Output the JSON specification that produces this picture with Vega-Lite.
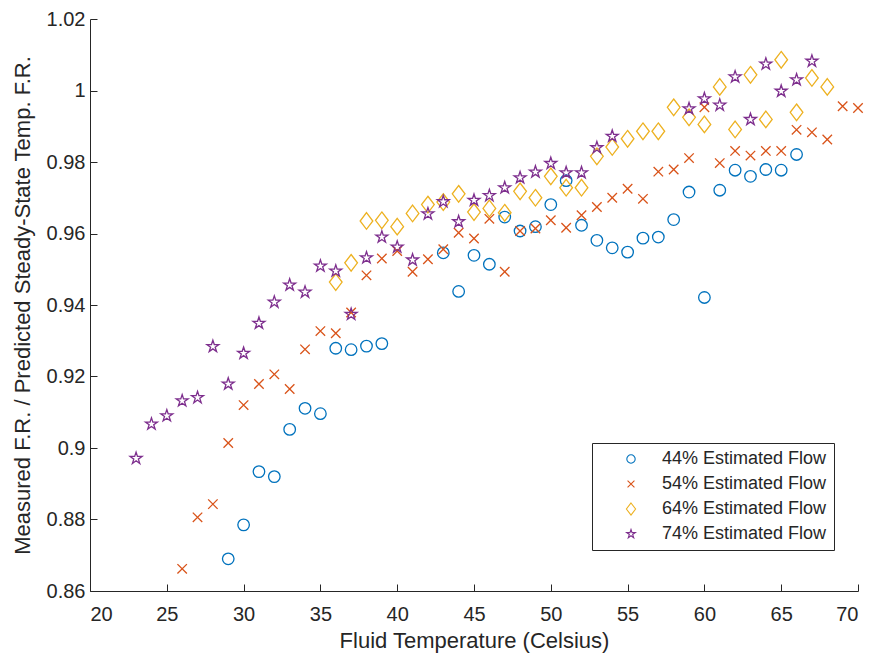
{
  "$schema": "https://vega.github.io/schema/vega-lite/v6.json",
  "width": 768,
  "height": 572,
  "autosize": {"type": "none"},
  "padding": {"left": 90, "top": 19, "right": 14, "bottom": 65},
  "background": "white",
  "config": {
    "view": {"stroke": null},
    "font": "Liberation Sans",
    "axis": {
      "grid": false,
      "domainColor": "#262626",
      "domainWidth": 1,
      "tickColor": "#262626",
      "tickWidth": 1,
      "tickSize": -7,
      "labelColor": "#262626",
      "labelFontSize": 20,
      "labelFont": "Liberation Sans",
      "titleColor": "#262626",
      "titleFontSize": 22,
      "titleFont": "Liberation Sans",
      "titleFontWeight": "normal"
    }
  },
  "data": {
    "values": [
      {"temp": 29, "ratio": 0.869, "flow": "44% Estimated Flow"},
      {"temp": 30, "ratio": 0.8785, "flow": "44% Estimated Flow"},
      {"temp": 31, "ratio": 0.8934, "flow": "44% Estimated Flow"},
      {"temp": 32, "ratio": 0.892, "flow": "44% Estimated Flow"},
      {"temp": 33, "ratio": 0.9052, "flow": "44% Estimated Flow"},
      {"temp": 34, "ratio": 0.9111, "flow": "44% Estimated Flow"},
      {"temp": 35, "ratio": 0.9096, "flow": "44% Estimated Flow"},
      {"temp": 36, "ratio": 0.9279, "flow": "44% Estimated Flow"},
      {"temp": 37, "ratio": 0.9275, "flow": "44% Estimated Flow"},
      {"temp": 38, "ratio": 0.9285, "flow": "44% Estimated Flow"},
      {"temp": 39, "ratio": 0.9292, "flow": "44% Estimated Flow"},
      {"temp": 43, "ratio": 0.9546, "flow": "44% Estimated Flow"},
      {"temp": 44, "ratio": 0.9438, "flow": "44% Estimated Flow"},
      {"temp": 45, "ratio": 0.9539, "flow": "44% Estimated Flow"},
      {"temp": 46, "ratio": 0.9514, "flow": "44% Estimated Flow"},
      {"temp": 47, "ratio": 0.9646, "flow": "44% Estimated Flow"},
      {"temp": 48, "ratio": 0.9607, "flow": "44% Estimated Flow"},
      {"temp": 49, "ratio": 0.9619, "flow": "44% Estimated Flow"},
      {"temp": 50, "ratio": 0.9681, "flow": "44% Estimated Flow"},
      {"temp": 51, "ratio": 0.9748, "flow": "44% Estimated Flow"},
      {"temp": 52, "ratio": 0.9623, "flow": "44% Estimated Flow"},
      {"temp": 53, "ratio": 0.9581, "flow": "44% Estimated Flow"},
      {"temp": 54, "ratio": 0.956, "flow": "44% Estimated Flow"},
      {"temp": 55, "ratio": 0.9548, "flow": "44% Estimated Flow"},
      {"temp": 56, "ratio": 0.9587, "flow": "44% Estimated Flow"},
      {"temp": 57, "ratio": 0.959, "flow": "44% Estimated Flow"},
      {"temp": 58, "ratio": 0.9639, "flow": "44% Estimated Flow"},
      {"temp": 59, "ratio": 0.9716, "flow": "44% Estimated Flow"},
      {"temp": 60, "ratio": 0.9421, "flow": "44% Estimated Flow"},
      {"temp": 61, "ratio": 0.9721, "flow": "44% Estimated Flow"},
      {"temp": 62, "ratio": 0.9777, "flow": "44% Estimated Flow"},
      {"temp": 63, "ratio": 0.976, "flow": "44% Estimated Flow"},
      {"temp": 64, "ratio": 0.9779, "flow": "44% Estimated Flow"},
      {"temp": 65, "ratio": 0.9777, "flow": "44% Estimated Flow"},
      {"temp": 66, "ratio": 0.9821, "flow": "44% Estimated Flow"},

      {"temp": 26, "ratio": 0.8662, "flow": "54% Estimated Flow"},
      {"temp": 27, "ratio": 0.8806, "flow": "54% Estimated Flow"},
      {"temp": 28, "ratio": 0.8843, "flow": "54% Estimated Flow"},
      {"temp": 29, "ratio": 0.9014, "flow": "54% Estimated Flow"},
      {"temp": 30, "ratio": 0.912, "flow": "54% Estimated Flow"},
      {"temp": 31, "ratio": 0.9179, "flow": "54% Estimated Flow"},
      {"temp": 32, "ratio": 0.9206, "flow": "54% Estimated Flow"},
      {"temp": 33, "ratio": 0.9165, "flow": "54% Estimated Flow"},
      {"temp": 34, "ratio": 0.9276, "flow": "54% Estimated Flow"},
      {"temp": 35, "ratio": 0.9327, "flow": "54% Estimated Flow"},
      {"temp": 36, "ratio": 0.9321, "flow": "54% Estimated Flow"},
      {"temp": 37, "ratio": 0.9379, "flow": "54% Estimated Flow"},
      {"temp": 38, "ratio": 0.9483, "flow": "54% Estimated Flow"},
      {"temp": 39, "ratio": 0.953, "flow": "54% Estimated Flow"},
      {"temp": 40, "ratio": 0.9551, "flow": "54% Estimated Flow"},
      {"temp": 41, "ratio": 0.9493, "flow": "54% Estimated Flow"},
      {"temp": 42, "ratio": 0.9528, "flow": "54% Estimated Flow"},
      {"temp": 43, "ratio": 0.9556, "flow": "54% Estimated Flow"},
      {"temp": 44, "ratio": 0.9602, "flow": "54% Estimated Flow"},
      {"temp": 45, "ratio": 0.9586, "flow": "54% Estimated Flow"},
      {"temp": 46, "ratio": 0.9641, "flow": "54% Estimated Flow"},
      {"temp": 47, "ratio": 0.9493, "flow": "54% Estimated Flow"},
      {"temp": 48, "ratio": 0.9607, "flow": "54% Estimated Flow"},
      {"temp": 49, "ratio": 0.9614, "flow": "54% Estimated Flow"},
      {"temp": 50, "ratio": 0.9637, "flow": "54% Estimated Flow"},
      {"temp": 51, "ratio": 0.9616, "flow": "54% Estimated Flow"},
      {"temp": 52, "ratio": 0.9651, "flow": "54% Estimated Flow"},
      {"temp": 53, "ratio": 0.9674, "flow": "54% Estimated Flow"},
      {"temp": 54, "ratio": 0.97, "flow": "54% Estimated Flow"},
      {"temp": 55, "ratio": 0.9725, "flow": "54% Estimated Flow"},
      {"temp": 56, "ratio": 0.9697, "flow": "54% Estimated Flow"},
      {"temp": 57, "ratio": 0.9773, "flow": "54% Estimated Flow"},
      {"temp": 58, "ratio": 0.9779, "flow": "54% Estimated Flow"},
      {"temp": 59, "ratio": 0.9811, "flow": "54% Estimated Flow"},
      {"temp": 60, "ratio": 0.9953, "flow": "54% Estimated Flow"},
      {"temp": 61, "ratio": 0.9797, "flow": "54% Estimated Flow"},
      {"temp": 62, "ratio": 0.9831, "flow": "54% Estimated Flow"},
      {"temp": 63, "ratio": 0.9818, "flow": "54% Estimated Flow"},
      {"temp": 64, "ratio": 0.9831, "flow": "54% Estimated Flow"},
      {"temp": 65, "ratio": 0.9831, "flow": "54% Estimated Flow"},
      {"temp": 66, "ratio": 0.989, "flow": "54% Estimated Flow"},
      {"temp": 67, "ratio": 0.9883, "flow": "54% Estimated Flow"},
      {"temp": 68, "ratio": 0.9863, "flow": "54% Estimated Flow"},
      {"temp": 69, "ratio": 0.9956, "flow": "54% Estimated Flow"},
      {"temp": 70, "ratio": 0.9951, "flow": "54% Estimated Flow"},

      {"temp": 36, "ratio": 0.9464, "flow": "64% Estimated Flow"},
      {"temp": 37, "ratio": 0.9518, "flow": "64% Estimated Flow"},
      {"temp": 38, "ratio": 0.9635, "flow": "64% Estimated Flow"},
      {"temp": 39, "ratio": 0.9637, "flow": "64% Estimated Flow"},
      {"temp": 40, "ratio": 0.9619, "flow": "64% Estimated Flow"},
      {"temp": 41, "ratio": 0.9656, "flow": "64% Estimated Flow"},
      {"temp": 42, "ratio": 0.9681, "flow": "64% Estimated Flow"},
      {"temp": 43, "ratio": 0.9688, "flow": "64% Estimated Flow"},
      {"temp": 44, "ratio": 0.9711, "flow": "64% Estimated Flow"},
      {"temp": 45, "ratio": 0.966, "flow": "64% Estimated Flow"},
      {"temp": 46, "ratio": 0.967, "flow": "64% Estimated Flow"},
      {"temp": 47, "ratio": 0.9658, "flow": "64% Estimated Flow"},
      {"temp": 48, "ratio": 0.9718, "flow": "64% Estimated Flow"},
      {"temp": 49, "ratio": 0.97, "flow": "64% Estimated Flow"},
      {"temp": 50, "ratio": 0.976, "flow": "64% Estimated Flow"},
      {"temp": 51, "ratio": 0.9728, "flow": "64% Estimated Flow"},
      {"temp": 52, "ratio": 0.9728, "flow": "64% Estimated Flow"},
      {"temp": 53, "ratio": 0.9816, "flow": "64% Estimated Flow"},
      {"temp": 54, "ratio": 0.9842, "flow": "64% Estimated Flow"},
      {"temp": 55, "ratio": 0.9865, "flow": "64% Estimated Flow"},
      {"temp": 56, "ratio": 0.9886, "flow": "64% Estimated Flow"},
      {"temp": 57, "ratio": 0.9886, "flow": "64% Estimated Flow"},
      {"temp": 58, "ratio": 0.9953, "flow": "64% Estimated Flow"},
      {"temp": 59, "ratio": 0.9925, "flow": "64% Estimated Flow"},
      {"temp": 60, "ratio": 0.9905, "flow": "64% Estimated Flow"},
      {"temp": 61, "ratio": 1.001, "flow": "64% Estimated Flow"},
      {"temp": 62, "ratio": 0.9891, "flow": "64% Estimated Flow"},
      {"temp": 63, "ratio": 1.0044, "flow": "64% Estimated Flow"},
      {"temp": 64, "ratio": 0.9919, "flow": "64% Estimated Flow"},
      {"temp": 65, "ratio": 1.0086, "flow": "64% Estimated Flow"},
      {"temp": 66, "ratio": 0.9939, "flow": "64% Estimated Flow"},
      {"temp": 67, "ratio": 1.0035, "flow": "64% Estimated Flow"},
      {"temp": 68, "ratio": 1.001, "flow": "64% Estimated Flow"},

      {"temp": 23, "ratio": 0.8971, "flow": "74% Estimated Flow"},
      {"temp": 24, "ratio": 0.9067, "flow": "74% Estimated Flow"},
      {"temp": 25, "ratio": 0.909, "flow": "74% Estimated Flow"},
      {"temp": 26, "ratio": 0.9132, "flow": "74% Estimated Flow"},
      {"temp": 27, "ratio": 0.9141, "flow": "74% Estimated Flow"},
      {"temp": 28, "ratio": 0.9284, "flow": "74% Estimated Flow"},
      {"temp": 29, "ratio": 0.9179, "flow": "74% Estimated Flow"},
      {"temp": 30, "ratio": 0.9265, "flow": "74% Estimated Flow"},
      {"temp": 31, "ratio": 0.9349, "flow": "74% Estimated Flow"},
      {"temp": 32, "ratio": 0.9408, "flow": "74% Estimated Flow"},
      {"temp": 33, "ratio": 0.9456, "flow": "74% Estimated Flow"},
      {"temp": 34, "ratio": 0.9436, "flow": "74% Estimated Flow"},
      {"temp": 35, "ratio": 0.9509, "flow": "74% Estimated Flow"},
      {"temp": 36, "ratio": 0.9495, "flow": "74% Estimated Flow"},
      {"temp": 37, "ratio": 0.9374, "flow": "74% Estimated Flow"},
      {"temp": 38, "ratio": 0.9532, "flow": "74% Estimated Flow"},
      {"temp": 39, "ratio": 0.959, "flow": "74% Estimated Flow"},
      {"temp": 40, "ratio": 0.9562, "flow": "74% Estimated Flow"},
      {"temp": 41, "ratio": 0.9526, "flow": "74% Estimated Flow"},
      {"temp": 42, "ratio": 0.9655, "flow": "74% Estimated Flow"},
      {"temp": 43, "ratio": 0.9689, "flow": "74% Estimated Flow"},
      {"temp": 44, "ratio": 0.9633, "flow": "74% Estimated Flow"},
      {"temp": 45, "ratio": 0.9693, "flow": "74% Estimated Flow"},
      {"temp": 46, "ratio": 0.9706, "flow": "74% Estimated Flow"},
      {"temp": 47, "ratio": 0.9728, "flow": "74% Estimated Flow"},
      {"temp": 48, "ratio": 0.9756, "flow": "74% Estimated Flow"},
      {"temp": 49, "ratio": 0.9772, "flow": "74% Estimated Flow"},
      {"temp": 50, "ratio": 0.9796, "flow": "74% Estimated Flow"},
      {"temp": 51, "ratio": 0.977, "flow": "74% Estimated Flow"},
      {"temp": 52, "ratio": 0.977, "flow": "74% Estimated Flow"},
      {"temp": 53, "ratio": 0.984, "flow": "74% Estimated Flow"},
      {"temp": 54, "ratio": 0.9872, "flow": "74% Estimated Flow"},
      {"temp": 59, "ratio": 0.9949, "flow": "74% Estimated Flow"},
      {"temp": 60, "ratio": 0.9977, "flow": "74% Estimated Flow"},
      {"temp": 61, "ratio": 0.9959, "flow": "74% Estimated Flow"},
      {"temp": 62, "ratio": 1.0038, "flow": "74% Estimated Flow"},
      {"temp": 63, "ratio": 0.9919, "flow": "74% Estimated Flow"},
      {"temp": 64, "ratio": 1.0074, "flow": "74% Estimated Flow"},
      {"temp": 65, "ratio": 0.9998, "flow": "74% Estimated Flow"},
      {"temp": 66, "ratio": 1.003, "flow": "74% Estimated Flow"},
      {"temp": 67, "ratio": 1.0082, "flow": "74% Estimated Flow"}
    ]
  },
  "mark": {"type": "point", "filled": false, "size": 133, "strokeWidth": 1.3, "opacity": 1},
  "encoding": {
    "x": {
      "field": "temp",
      "type": "quantitative",
      "title": "Fluid Temperature (Celsius)",
      "scale": {"domain": [20, 70], "nice": false, "zero": false},
      "axis": {
        "values": [20, 25, 30, 35, 40, 45, 50, 55, 60, 65, 70],
        "labelPadding": 20,
        "titlePadding": 6
      }
    },
    "y": {
      "field": "ratio",
      "type": "quantitative",
      "title": "Measured F.R. / Predicted Steady-State Temp. F.R.",
      "scale": {"domain": [0.86, 1.02], "nice": false, "zero": false},
      "axis": {
        "values": [0.86, 0.88, 0.9, 0.92, 0.94, 0.96, 0.98, 1.0, 1.02],
        "format": ".2~f",
        "labelPadding": 12,
        "titlePadding": 12
      }
    },
    "color": {
      "field": "flow",
      "type": "nominal",
      "scale": {
        "domain": ["44% Estimated Flow", "54% Estimated Flow", "64% Estimated Flow", "74% Estimated Flow"],
        "range": ["#0072BD", "#D95319", "#EDB120", "#7E2F8E"]
      },
      "legend": {
        "title": null,
        "orient": "none",
        "legendX": 502,
        "legendY": 424,
        "padding": 7,
        "strokeColor": "#262626",
        "fillColor": "white",
        "labelFontSize": 18,
        "labelFont": "Liberation Sans",
        "labelColor": "#262626",
        "labelLimit": 300,
        "symbolSize": 70,
        "symbolStrokeWidth": 1.1,
        "symbolOffset": 23,
        "labelOffset": 22,
        "rowPadding": 7
      }
    },
    "shape": {
      "field": "flow",
      "type": "nominal",
      "scale": {
        "domain": ["44% Estimated Flow", "54% Estimated Flow", "64% Estimated Flow", "74% Estimated Flow"],
        "range": [
          "circle",
          "M-0.82,-0.82L0.82,0.82M0.82,-0.82L-0.82,0.82",
          "M0,-1.44L1.1,0L0,1.44L-1.1,0Z",
          "M0,-1.09L0.245,-0.337L1.037,-0.337L0.396,0.129L0.641,0.882L0,0.416L-0.641,0.882L-0.396,0.129L-1.037,-0.337L-0.245,-0.337Z"
        ]
      }
    }
  }
}
